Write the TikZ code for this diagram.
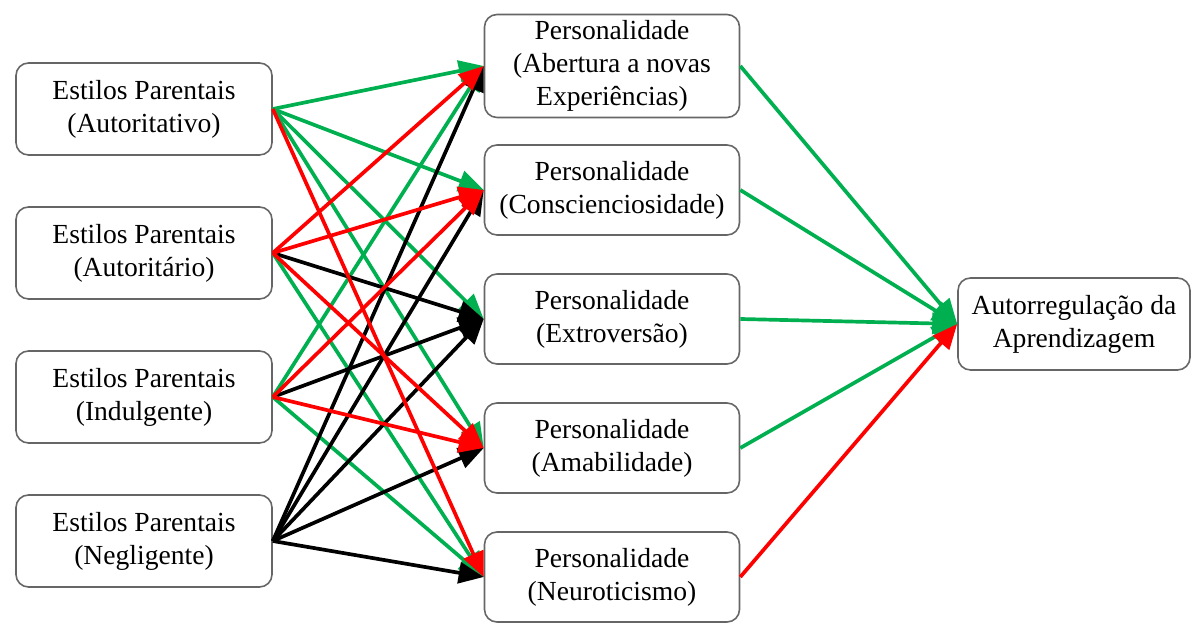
\documentclass[tikz,border=0pt]{standalone}
\usepackage{fontspec}
\setmainfont{Liberation Serif}
\usepackage{tikz}
\usetikzlibrary{arrows.meta}
\definecolor{posgreen}{RGB}{0,176,80}
\definecolor{negred}{RGB}{255,0,0}
\tikzstyle{parenting} = [rectangle, rounded corners=0.25cm, minimum width=5.12cm, minimum height=1.84cm, text centered, align=center, draw=black!60, line width=0.9pt, font=\fontsize{15.7}{18.7}\selectfont]
\tikzstyle{trait} = [rectangle, rounded corners=0.25cm, minimum width=5.1cm, minimum height=1.8cm, text centered, align=center, draw=black!60, line width=0.9pt, font=\fontsize{15.7}{18.7}\selectfont]
\tikzstyle{outcome} = [rectangle, rounded corners=0.25cm, minimum width=4.64cm, minimum height=1.84cm, text centered, align=center, draw=black!60, line width=0.9pt, font=\fontsize{15.7}{18.7}\selectfont]
\tikzstyle{arrow} = [line width=2.1pt, -{Triangle[length=0.5cm, width=0.42cm]}]

\begin{document}
\begin{tikzpicture}[node distance=2.58cm]
    \useasboundingbox (0,0) rectangle (24.04,-12.54);
    \node (autoritativo) [parenting] at (2.88,-2.18) {Estilos Parentais\\(Autoritativo)};
    \node (autoritario) [parenting, below of=autoritativo, yshift=-0.3cm] {Estilos Parentais\\(Autoritário)};
    \node (indulgente) [parenting, below of=autoritario, yshift=-0.3cm] {Estilos Parentais\\(Indulgente)};
    \node (negligente) [parenting, below of=indulgente, yshift=-0.3cm] {Estilos Parentais\\(Negligente)};

    \node (abertura) [trait, minimum height=2.06cm] at (12.24,-1.32) {Personalidade\\(Abertura a novas\\Experiências)};
    \node (conscienc) [trait, below of=abertura, yshift=0.1cm] {Personalidade\\(Conscienciosidade)};
    \node (extroversao) [trait, below of=conscienc] {Personalidade\\(Extroversão)};
    \node (amabilidade) [trait, below of=extroversao] {Personalidade\\(Amabilidade)};
    \node (neuroticismo) [trait, below of=amabilidade] {Personalidade\\(Neuroticismo)};

    \node (autorreg) [outcome] at (21.48,-6.48) {Autorregulação da\\Aprendizagem};

    \draw [arrow, posgreen] (autoritativo.east) -- (abertura.west);
    \draw [arrow, posgreen] (autoritativo.east) -- (conscienc.west);
    \draw [arrow, posgreen] (autoritativo.east) -- (extroversao.west);
    \draw [arrow, posgreen] (autoritativo.east) -- (amabilidade.west);
    \draw [arrow, posgreen] (autoritario.east) -- (neuroticismo.west);
    \draw [arrow, posgreen] (indulgente.east) -- (abertura.west);
    \draw [arrow, posgreen] (indulgente.east) -- (neuroticismo.west);

    \draw [arrow, black] (autoritario.east) -- (extroversao.west);
    \draw [arrow, black] (indulgente.east) -- (extroversao.west);
    \draw [arrow, black] (negligente.east) -- (abertura.west);
    \draw [arrow, black] (negligente.east) -- (conscienc.west);
    \draw [arrow, black] (negligente.east) -- (extroversao.west);
    \draw [arrow, black] (negligente.east) -- (amabilidade.west);
    \draw [arrow, black] (negligente.east) -- (neuroticismo.west);

    \draw [arrow, negred] (autoritativo.east) -- (neuroticismo.west);
    \draw [arrow, negred] (autoritario.east) -- (abertura.west);
    \draw [arrow, negred] (autoritario.east) -- (conscienc.west);
    \draw [arrow, negred] (autoritario.east) -- (amabilidade.west);
    \draw [arrow, negred] (indulgente.east) -- (conscienc.west);
    \draw [arrow, negred] (indulgente.east) -- (amabilidade.west);

    \draw [arrow, posgreen] (abertura.east) -- (autorreg.west);
    \draw [arrow, posgreen] (conscienc.east) -- (autorreg.west);
    \draw [arrow, posgreen] (extroversao.east) -- (autorreg.west);
    \draw [arrow, posgreen] (amabilidade.east) -- (autorreg.west);
    \draw [arrow, negred] (neuroticismo.east) -- (autorreg.west);
\end{tikzpicture}
\end{document}
